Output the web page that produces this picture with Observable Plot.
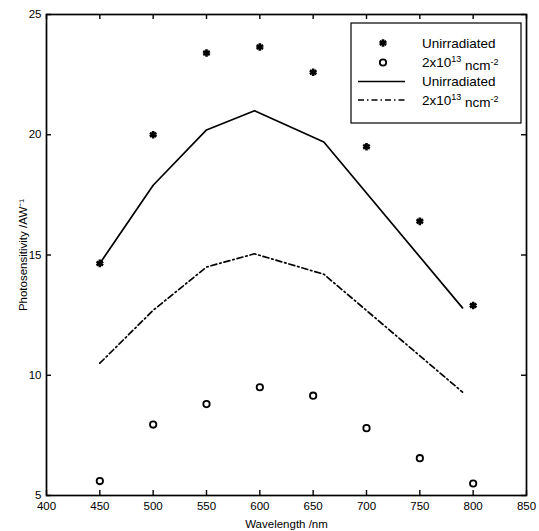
<!DOCTYPE html>
<html>
<head>
<meta charset="utf-8">
<script src="https://cdn.jsdelivr.net/npm/d3@7"></script>
<script src="https://cdn.jsdelivr.net/npm/@observablehq/plot@0.6"></script>
<style>
  html, body { margin: 0; padding: 0; background: #fff; }
  #wrap { position: relative; width: 539px; height: 531px; font-family: "Liberation Sans", Arial, sans-serif; }
  #legend { position: absolute; left: 0; top: 0; pointer-events: none; }
</style>
</head>
<body>
<div id="wrap"></div>
<script>
// Measured points
const wavelengths = [450, 500, 550, 600, 650, 700, 750, 800];
const unirradiatedPts = [14.65, 20.0, 23.4, 23.65, 22.6, 19.5, 16.4, 12.9];
const irradiatedPts = [5.6, 7.95, 8.8, 9.5, 9.15, 7.8, 6.55, 5.5];
// Model curves
const curveWavelengths = [450, 500, 550, 595, 660, 790];
const unirradiatedCurve = [14.65, 17.9, 20.2, 21.0, 19.7, 12.8];
const irradiatedCurve = [10.5, 12.7, 14.5, 15.05, 14.2, 9.3];
// Axis ticks
const xTicks = [400, 450, 500, 550, 600, 650, 700, 750, 800, 850];
const yTicks = [5, 10, 15, 20, 25];
const legendLabels = ["Unirradiated", "2x10|13| ncm|-2", "Unirradiated", "2x10|13| ncm|-2"];

const W = 539, H = 531;
const mL = 46, mR = 13, mT = 14, mB = 36;
const innerW = W - mL - mR, innerH = H - mT - mB;

const pts = wavelengths.map((w, i) => ({w, a: unirradiatedPts[i], b: irradiatedPts[i]}));
const crv = curveWavelengths.map((w, i) => ({w, a: unirradiatedCurve[i], b: irradiatedCurve[i]}));

const chart = Plot.plot({
  width: W, height: H,
  marginLeft: mL, marginRight: mR, marginTop: mT, marginBottom: mB,
  style: {fontFamily: "'Liberation Sans', Arial, sans-serif", fontSize: "11.5px", color: "black", background: "white"},
  x: {domain: [400, 850]},
  y: {domain: [5, 25]},
  marks: [
    Plot.frame({stroke: "black", strokeWidth: 1.7}),
    Plot.tickX(xTicks, {x: d => d, insetTop: innerH - 5, stroke: "black", strokeWidth: 1.4}),
    Plot.tickX(xTicks, {x: d => d, insetBottom: innerH - 5, stroke: "black", strokeWidth: 1.4}),
    Plot.tickY(yTicks, {y: d => d, insetRight: innerW - 5, stroke: "black", strokeWidth: 1.4}),
    Plot.tickY(yTicks, {y: d => d, insetLeft: innerW - 5, stroke: "black", strokeWidth: 1.4}),
    Plot.axisX({ticks: xTicks, tickSize: 0, tickPadding: 6, tickFormat: d => String(d),
      label: "Wavelength /nm", labelAnchor: "center", labelArrow: "none", labelOffset: 32, fontSize: 11.5}),
    Plot.axisY({ticks: yTicks, tickSize: 0, tickPadding: 5, tickFormat: d => String(d),
      label: "Photosensitivity /AW\u207B\u00B9", labelAnchor: "center", labelArrow: "none", labelOffset: 28, fontSize: 11.5}),
    Plot.line(crv, {x: "w", y: "a", stroke: "black", strokeWidth: 1.7}),
    Plot.line(crv, {x: "w", y: "b", stroke: "black", strokeWidth: 1.7, strokeDasharray: "6,3,1.5,3"}),
    Plot.dot(pts, {x: "w", y: "a", symbol: "asterisk", r: 3.6, stroke: "black", strokeWidth: 2.6}),
    Plot.dot(pts, {x: "w", y: "b", symbol: "circle", r: 3.2, stroke: "black", strokeWidth: 1.8, fill: "none"})
  ]
});

const wrap = document.getElementById("wrap");
wrap.appendChild(chart);

// Legend overlay
const svg = d3.select(wrap).append("svg").attr("id", "legend").attr("width", W).attr("height", H);
const lx = 351, ly = 23, lw = 170, lh = 100;
svg.append("rect").attr("x", lx).attr("y", ly).attr("width", lw).attr("height", lh)
  .attr("fill", "white").attr("stroke", "black").attr("stroke-width", 1.2);
const rowsY = [43, 62.5, 81.5, 100];
const symX = 383, lineX1 = 358, lineX2 = 405, textX = 422;
const g = svg.append("g").attr("stroke", "black").attr("fill", "none");
const ast = d3.symbol(d3.symbolAsterisk, 3.6 * 3.6 * Math.PI)();
g.append("path").attr("d", ast).attr("transform", `translate(${symX},${rowsY[0]})`).attr("stroke-width", 2.6);
g.append("circle").attr("cx", symX).attr("cy", rowsY[1]).attr("r", 3.2).attr("stroke-width", 1.8);
g.append("line").attr("x1", lineX1).attr("x2", lineX2).attr("y1", rowsY[2]).attr("y2", rowsY[2]).attr("stroke-width", 1.7);
g.append("line").attr("x1", lineX1).attr("x2", lineX2).attr("y1", rowsY[3]).attr("y2", rowsY[3]).attr("stroke-width", 1.7).attr("stroke-dasharray", "6,3,1.5,3");
legendLabels.forEach((lab, i) => {
  const t = svg.append("text").attr("x", textX).attr("y", rowsY[i]).attr("dy", "0.35em")
    .attr("font-size", 13.5).attr("font-family", "'Liberation Sans', Arial, sans-serif").attr("fill", "black");
  const parts = lab.split("|");
  parts.forEach((p, j) => {
    if (j % 2 === 1) {
      t.append("tspan").attr("font-size", 9).attr("dy", "-0.55em").text(p);
    } else {
      const ts = t.append("tspan").text(p);
      if (j > 0) ts.attr("dy", "0.55em");
    }
  });
});
</script>
</body>
</html>
